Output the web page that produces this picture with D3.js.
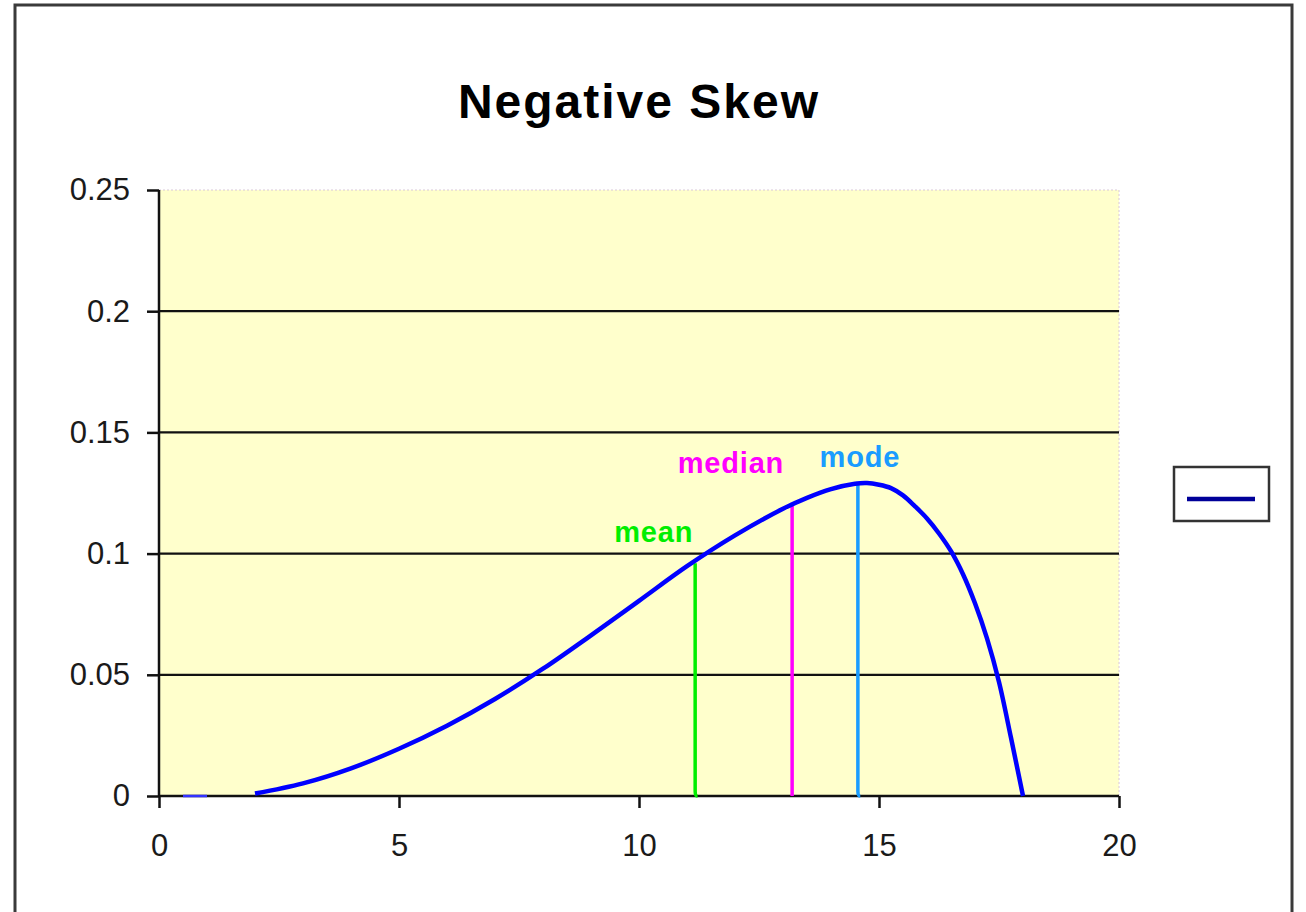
<!DOCTYPE html>
<html>
<head>
<meta charset="utf-8">
<script src="https://cdn.jsdelivr.net/npm/d3@7"></script>
<style>
  html, body { margin: 0; padding: 0; background: #fff; }
  svg { display: block; }
  text { font-family: "Liberation Sans", Arial, sans-serif; }
</style>
</head>
<body>
<svg id="chart" width="1306" height="912"></svg>
<script>
// ---- data ----
const title = "Negative Skew";
const curveX = [2, 3, 4, 5, 6, 7, 8, 9, 10, 11, 12, 13, 13.5, 14, 14.5, 14.75, 15, 15.25, 15.5, 15.75, 16, 16.25, 16.5, 16.75, 17, 17.25, 17.5, 17.75, 18];
const curveY = [0.001, 0.0052, 0.0114, 0.0195, 0.0290, 0.0400, 0.0525, 0.0663, 0.0805, 0.0948, 0.1075, 0.1185, 0.1230, 0.1266, 0.1288, 0.1291, 0.1284, 0.1270, 0.1240, 0.1195, 0.1145, 0.1083, 0.1010, 0.0915, 0.0795, 0.0650, 0.0470, 0.0240, 0];
const baseSegX = [0.5, 1.0];
const baseSegY = [0, 0];
const markerNames = ["mean", "median", "mode"];
const markerX = [11.17, 13.19, 14.56];
const markerTop = [0.096, 0.121, 0.1296];
const markerColors = ["#00ee00", "#ff00ff", "#1a9cff"];
const xTicks = [0, 5, 10, 15, 20];
const yTicks = [0, 0.05, 0.1, 0.15, 0.2, 0.25];
const yTickLabels = ["0", "0.05", "0.1", "0.15", "0.2", "0.25"];

// ---- layout ----
const svg = d3.select("#chart");
const plot = { left: 159, right: 1119, top: 190, bottom: 796 };
const x = d3.scaleLinear().domain([0, 20]).range([plot.left, plot.right]);
const y = d3.scaleLinear().domain([0, 0.25]).range([plot.bottom, plot.top]);

// outer frame
svg.append("rect").attr("x", 15).attr("y", 5).attr("width", 1277).attr("height", 920)
  .attr("fill", "#fff").attr("stroke", "#3a3a3a").attr("stroke-width", 3);

// title
svg.append("text").attr("x", 639).attr("y", 118).attr("text-anchor", "middle")
  .attr("font-size", 48).attr("font-weight", "bold").attr("letter-spacing", 2)
  .attr("fill", "#000").text(title);

// plot background
svg.append("rect").attr("x", plot.left).attr("y", plot.top)
  .attr("width", plot.right - plot.left).attr("height", plot.bottom - plot.top)
  .attr("fill", "#ffffcc").attr("stroke", "#d8c8d8").attr("stroke-width", 1)
  .attr("stroke-dasharray", "2,2");

// gridlines
svg.append("g").selectAll("line").data(yTicks.filter(v => v > 0 && v < 0.25)).join("line")
  .attr("x1", plot.left).attr("x2", plot.right)
  .attr("y1", d => y(d)).attr("y2", d => y(d))
  .attr("stroke", "#111").attr("stroke-width", 2.2);

// y axis
const yAxis = d3.axisLeft(y).tickValues(yTicks).tickSize(12).tickPadding(17)
  .tickFormat((d, i) => yTickLabels[i]);
const gy = svg.append("g").attr("transform", `translate(${plot.left},0)`).call(yAxis);
gy.select(".domain").attr("stroke", "#111").attr("stroke-width", 2.5).attr("d", `M0,${plot.top}V${plot.bottom}`);
gy.selectAll(".tick line").attr("stroke", "#111").attr("stroke-width", 2.5);
gy.selectAll(".tick text").attr("font-size", 31).attr("fill", "#1a1a1a")
  .attr("font-family", "'Liberation Sans', Arial, sans-serif");

// x axis
const xAxis = d3.axisBottom(x).tickValues(xTicks).tickSize(12).tickPadding(26)
  .tickFormat(d3.format("d"));
const gx = svg.append("g").attr("transform", `translate(0,${plot.bottom})`).call(xAxis);
gx.select(".domain").attr("stroke", "#111").attr("stroke-width", 2.5).attr("d", `M${plot.left},0H${plot.right}`);
gx.selectAll(".tick line").attr("stroke", "#111").attr("stroke-width", 2.5);
gx.selectAll(".tick text").attr("font-size", 31).attr("fill", "#1a1a1a")
  .attr("font-family", "'Liberation Sans', Arial, sans-serif");

// marker lines (with the small hook at the foot, as in the original)
const markerData = markerNames.map((n, i) => ({ name: n, x: markerX[i], top: markerTop[i], color: markerColors[i] }));
const hook = [0.05, 0, 0.05];
svg.append("g").selectAll("path").data(markerData).join("path")
  .attr("d", (d, i) => `M${x(d.x)},${y(d.top)}V${y(0.002)}Q${x(d.x)},${y(0)} ${x(d.x + hook[i])},${y(0)}`)
  .attr("fill", "none").attr("stroke", d => d.color).attr("stroke-width", 3.5);

// marker labels
const labelDx = [-2, -8, 2];
const labelY = [542, 473, 467];
svg.append("g").selectAll("text").data(markerData).join("text")
  .attr("x", (d, i) => x(d.x) + labelDx[i]).attr("y", (d, i) => labelY[i])
  .attr("text-anchor", (d, i) => i === 2 ? "middle" : "end")
  .attr("font-size", 29).attr("font-weight", "bold").attr("letter-spacing", 0.8)
  .attr("fill", d => d.color).text(d => d.name);

// curve
const line = d3.line().x(d => x(d[0])).y(d => y(d[1])).curve(d3.curveCatmullRom.alpha(0.5));
svg.append("path").datum(curveX.map((v, i) => [v, curveY[i]]))
  .attr("d", line).attr("fill", "none").attr("stroke", "#0000ff").attr("stroke-width", 4.5);
svg.append("path").datum(baseSegX.map((v, i) => [v, baseSegY[i]]))
  .attr("d", d3.line().x(d => x(d[0])).y(d => y(d[1]))).attr("fill", "none")
  .attr("stroke", "#3333ff").attr("stroke-width", 2.5);

// legend
svg.append("rect").attr("x", 1174).attr("y", 467).attr("width", 95).attr("height", 54)
  .attr("fill", "#fff").attr("stroke", "#333").attr("stroke-width", 2.5);
svg.append("line").attr("x1", 1187).attr("x2", 1255).attr("y1", 499).attr("y2", 499)
  .attr("stroke", "#000099").attr("stroke-width", 4.5);
</script>
</body>
</html>
